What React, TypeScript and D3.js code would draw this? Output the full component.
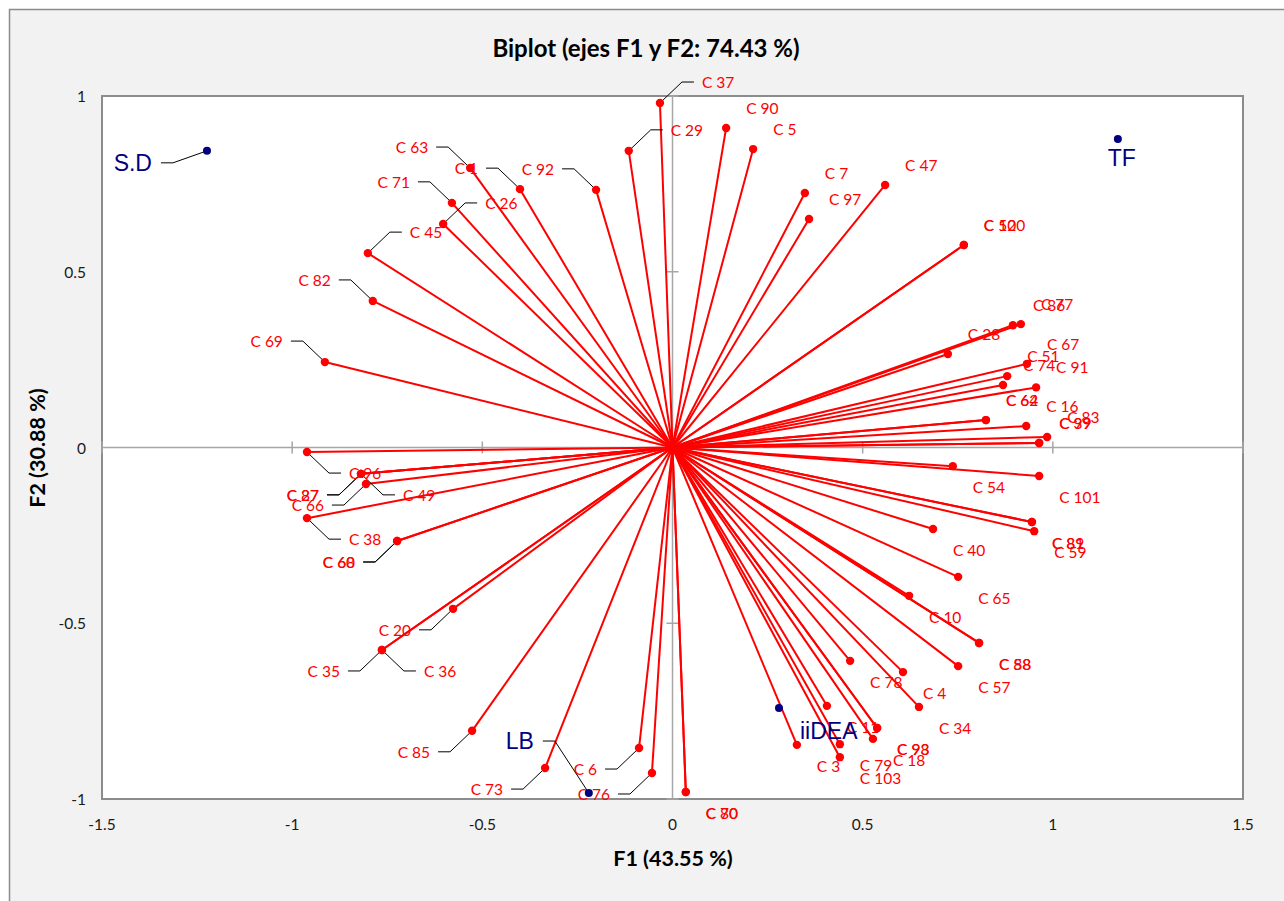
import React, { useEffect } from "react";
import * as d3 from "d3";

// ---------- DATA ----------
const pointLabels = [
  "C 37", "C 29", "C 92", "C 1", "C 63", "C 71", "C 26", "C 45", "C 82", "C 69",
  "C 90", "C 5", "C 7", "C 97", "C 47", "C 52", "C 100", "C 86", "C 77", "C 28",
  "C 67", "C 51", "C 74", "C 91", "C 62", "C 64", "C 16", "C 83", "C 39", "C 99",
  "C 54", "C 101", "C 81", "C 89", "C 59", "C 40", "C 65", "C 10", "C 58", "C 88",
  "C 57", "C 78", "C 4", "C 34", "C 11", "C 93", "C 98", "C 18", "C 79", "C 103",
  "C 3", "C 70", "C 80", "C 76", "C 6", "C 73", "C 85", "C 35", "C 36", "C 20",
  "C 60", "C 68", "C 38", "C 66", "C 27", "C 87", "C 49", "C 96",
];
const pointF1 = [
  -0.033, -0.115, -0.201, -0.401, -0.532, -0.58, -0.603, -0.801, -0.788, -0.914,
  0.141, 0.212, 0.348, 0.359, 0.559, 0.766, 0.766, 0.895, 0.916, 0.724,
  0.932, 0.88, 0.869, 0.956, 0.824, 0.824, 0.93, 0.985, 0.964, 0.964,
  0.737, 0.964, 0.945, 0.945, 0.951, 0.685, 0.751, 0.622, 0.806, 0.806,
  0.751, 0.467, 0.606, 0.648, 0.406, 0.538, 0.538, 0.527, 0.44, 0.44,
  0.327, 0.035, 0.035, -0.054, -0.088, -0.335, -0.527, -0.764, -0.764, -0.577,
  -0.724, -0.724, -0.961, -0.806, -0.819, -0.819, -0.819, -0.961,
];
const pointF2 = [
  0.98, 0.844, 0.733, 0.735, 0.795, 0.696, 0.636, 0.553, 0.417, 0.243,
  0.909, 0.849, 0.724, 0.65, 0.747, 0.576, 0.576, 0.348, 0.351, 0.266,
  0.238, 0.203, 0.178, 0.171, 0.078, 0.078, 0.061, 0.03, 0.013, 0.013,
  -0.053, -0.081, -0.212, -0.212, -0.238, -0.232, -0.368, -0.422, -0.556, -0.556,
  -0.622, -0.607, -0.639, -0.738, -0.735, -0.798, -0.798, -0.829, -0.844, -0.881,
  -0.846, -0.98, -0.98, -0.926, -0.855, -0.912, -0.806, -0.576, -0.576, -0.459,
  -0.266, -0.266, -0.201, -0.104, -0.075, -0.075, -0.075, -0.013,
];

const varLabels = ["S.D", "TF", "iiDEA", "LB"];
const varF1 = [-1.224, 1.171, 0.28, -0.22];
const varF2 = [0.844, 0.878, -0.741, -0.983];

const xTicks = [-1.5, -1, -0.5, 0, 0.5, 1, 1.5];
const yTicks = [-1, -0.5, 0, 0.5, 1];

const chartTitle = "Biplot (ejes F1 y F2: 74.43 %)";
const xTitle = "F1 (43.55 %)";
const yTitle = "F2 (30.88 %)";

// ---------- LAYOUT / STYLE ----------
// label placement codes per point (same order as pointLabels)
const labelPlacement = [
  "RU", "RU", "LU", "LU", "LU", "LU", "RU", "RU", "LU", "LU",
  "ur", "ur", "ur", "ur", "ur", "ur", "ur", "ur", "ur", "ur",
  "ur", "ur", "ur", "ur", "ur", "ur", "ur", "ur", "ur", "ur",
  "dr", "dr", "dr", "dr", "dr", "dr", "dr", "dr", "dr", "dr",
  "dr", "dr", "dr", "dr", "dr", "dr", "dr", "dr", "dr", "dr",
  "dr", "dr", "dr", "LD", "LD", "LD", "LD", "LD", "RD", "LD",
  "LD", "LD", "RD", "LD", "LD", "LD", "RD", "RD",
];

type Place = { elbow?: [number, number]; end?: [number, number]; text: [number, number]; anchor: string };
const placements: Record<string, Place> = {
  ur: { text: [20, -20], anchor: "start" },
  dr: { text: [20, 21], anchor: "start" },
  LU: { elbow: [-22, -21], end: [-34, -21], text: [-42, -21], anchor: "end" },
  RU: { elbow: [22, -21], end: [34, -21], text: [42, -21], anchor: "start" },
  LD: { elbow: [-22, 21], end: [-34, 21], text: [-42, 21], anchor: "end" },
  RD: { elbow: [22, 21], end: [34, 21], text: [42, 21], anchor: "start" },
};
const varPlacement: Place[] = [
  { elbow: [-34, 12], end: [-46, 12], text: [-55, 12], anchor: "end" },
  { text: [4, 19], anchor: "middle" },
  { text: [21, 23], anchor: "start" },
  { elbow: [-34, -52], end: [-46, -52], text: [-55, -52], anchor: "end" },
];

const W = 1284;
const H = 901;
const plot = { left: 102, right: 1243, top: 96, bottom: 799 };
const RED = "#ff0000";
const NAVY = "#000080";
const FONT = "Lato, 'Open Sans', sans-serif";
const VFONT = "'Liberation Sans', Arial, sans-serif";

export default function App() {
  useEffect(() => {
    document.body.style.margin = "0";
  }, []);

  const x = d3.scaleLinear().domain([-1.5, 1.5]).range([plot.left, plot.right]);
  const y = d3.scaleLinear().domain([-1, 1]).range([plot.bottom, plot.top]);
  const x0 = x(0);
  const y0 = y(0);

  const pts = pointLabels.map((lab, i) => ({
    lab,
    px: x(pointF1[i]),
    py: y(pointF2[i]),
    place: placements[labelPlacement[i]],
  }));
  const vars = varLabels.map((lab, i) => ({
    lab,
    px: x(varF1[i]),
    py: y(varF2[i]),
    place: varPlacement[i],
  }));

  const leaderPath = (px: number, py: number, p: Place) =>
    p.elbow && p.end
      ? d3.line()([
          [px, py],
          [px + p.elbow[0], py + p.elbow[1]],
          [px + p.end[0], py + p.end[1]],
        ]) || ""
      : "";

  return (
    <svg
      width={W}
      height={H}
      style={{ position: "absolute", left: 0, top: 0, display: "block" }}
    >
      <rect x={0} y={0} width={W} height={H} fill="#ffffff" />
      <rect x={9.5} y={9.5} width={W + 20} height={H + 20} fill="#f2f2f2" stroke="#8c8c8c" strokeWidth={1.5} />
      <rect
        x={plot.left}
        y={plot.top}
        width={plot.right - plot.left}
        height={plot.bottom - plot.top}
        fill="#ffffff"
        stroke="#8c8c8c"
        strokeWidth={2}
      />
      {/* zero axes */}
      <line x1={plot.left} x2={plot.right} y1={y0} y2={y0} stroke="#a6a6a6" strokeWidth={1.5} />
      <line x1={x0} x2={x0} y1={plot.top} y2={plot.bottom} stroke="#a6a6a6" strokeWidth={1.5} />
      {xTicks.map((t) => (
        <line key={"xt" + t} x1={x(t)} x2={x(t)} y1={y0 - 6} y2={y0 + 6} stroke="#a6a6a6" strokeWidth={1.5} />
      ))}
      {yTicks.map((t) => (
        <line key={"yt" + t} x1={x0 - 6} x2={x0 + 6} y1={y(t)} y2={y(t)} stroke="#a6a6a6" strokeWidth={1.5} />
      ))}

      {/* tick labels */}
      {xTicks.map((t) => (
        <text key={"xl" + t} x={x(t)} y={824} textAnchor="middle" dominantBaseline="central" fontFamily={FONT} fontSize={15.5} fill="#1a1a1a">
          {String(t)}
        </text>
      ))}
      {yTicks.map((t) => (
        <text key={"yl" + t} x={86} y={y(t)} textAnchor="end" dominantBaseline="central" fontFamily={FONT} fontSize={15.5} fill="#1a1a1a">
          {String(t)}
        </text>
      ))}

      {/* titles */}
      <text x={646} y={47} textAnchor="middle" dominantBaseline="central" fontFamily={FONT} fontWeight="bold" fontSize={24} fill="#000">
        {chartTitle}
      </text>
      <text x={673} y={858} textAnchor="middle" dominantBaseline="central" fontFamily={FONT} fontWeight="bold" fontSize={21.5} fill="#000">
        {xTitle}
      </text>
      <text
        transform={`translate(37, 448) rotate(-90)`}
        textAnchor="middle"
        dominantBaseline="central"
        fontFamily={FONT}
        fontWeight="bold"
        fontSize={21.5}
        fill="#000"
      >
        {yTitle}
      </text>

      {/* vectors */}
      {pts.map((p, i) => (
        <line key={"v" + i} x1={x0} y1={y0} x2={p.px} y2={p.py} stroke={RED} strokeWidth={2} />
      ))}
      {/* leaders */}
      {pts.map((p, i) => (
        <path key={"ld" + i} d={leaderPath(p.px, p.py, p.place)} fill="none" stroke="#000" strokeWidth={1} />
      ))}
      {vars.map((p, i) => (
        <path key={"vld" + i} d={leaderPath(p.px, p.py, p.place)} fill="none" stroke="#000" strokeWidth={1} />
      ))}
      {/* point dots */}
      {pts.map((p, i) => (
        <circle key={"c" + i} cx={p.px} cy={p.py} r={4.2} fill={RED} />
      ))}
      {/* point labels */}
      {pts.map((p, i) => (
        <text
          key={"t" + i}
          x={p.px + p.place.text[0]}
          y={p.py + p.place.text[1]}
          textAnchor={p.place.anchor}
          dominantBaseline="central"
          fontFamily={FONT}
          fontSize={15.5}
          fill={RED}
        >
          {p.lab}
        </text>
      ))}
      {/* variables */}
      {vars.map((p, i) => (
        <circle key={"vc" + i} cx={p.px} cy={p.py} r={4} fill={NAVY} />
      ))}
      {vars.map((p, i) => (
        <text
          key={"vt" + i}
          x={p.px + p.place.text[0]}
          y={p.py + p.place.text[1]}
          textAnchor={p.place.anchor}
          dominantBaseline="central"
          fontFamily={VFONT}
          fontSize={23}
          fill={NAVY}
        >
          {p.lab}
        </text>
      ))}
    </svg>
  );
}
